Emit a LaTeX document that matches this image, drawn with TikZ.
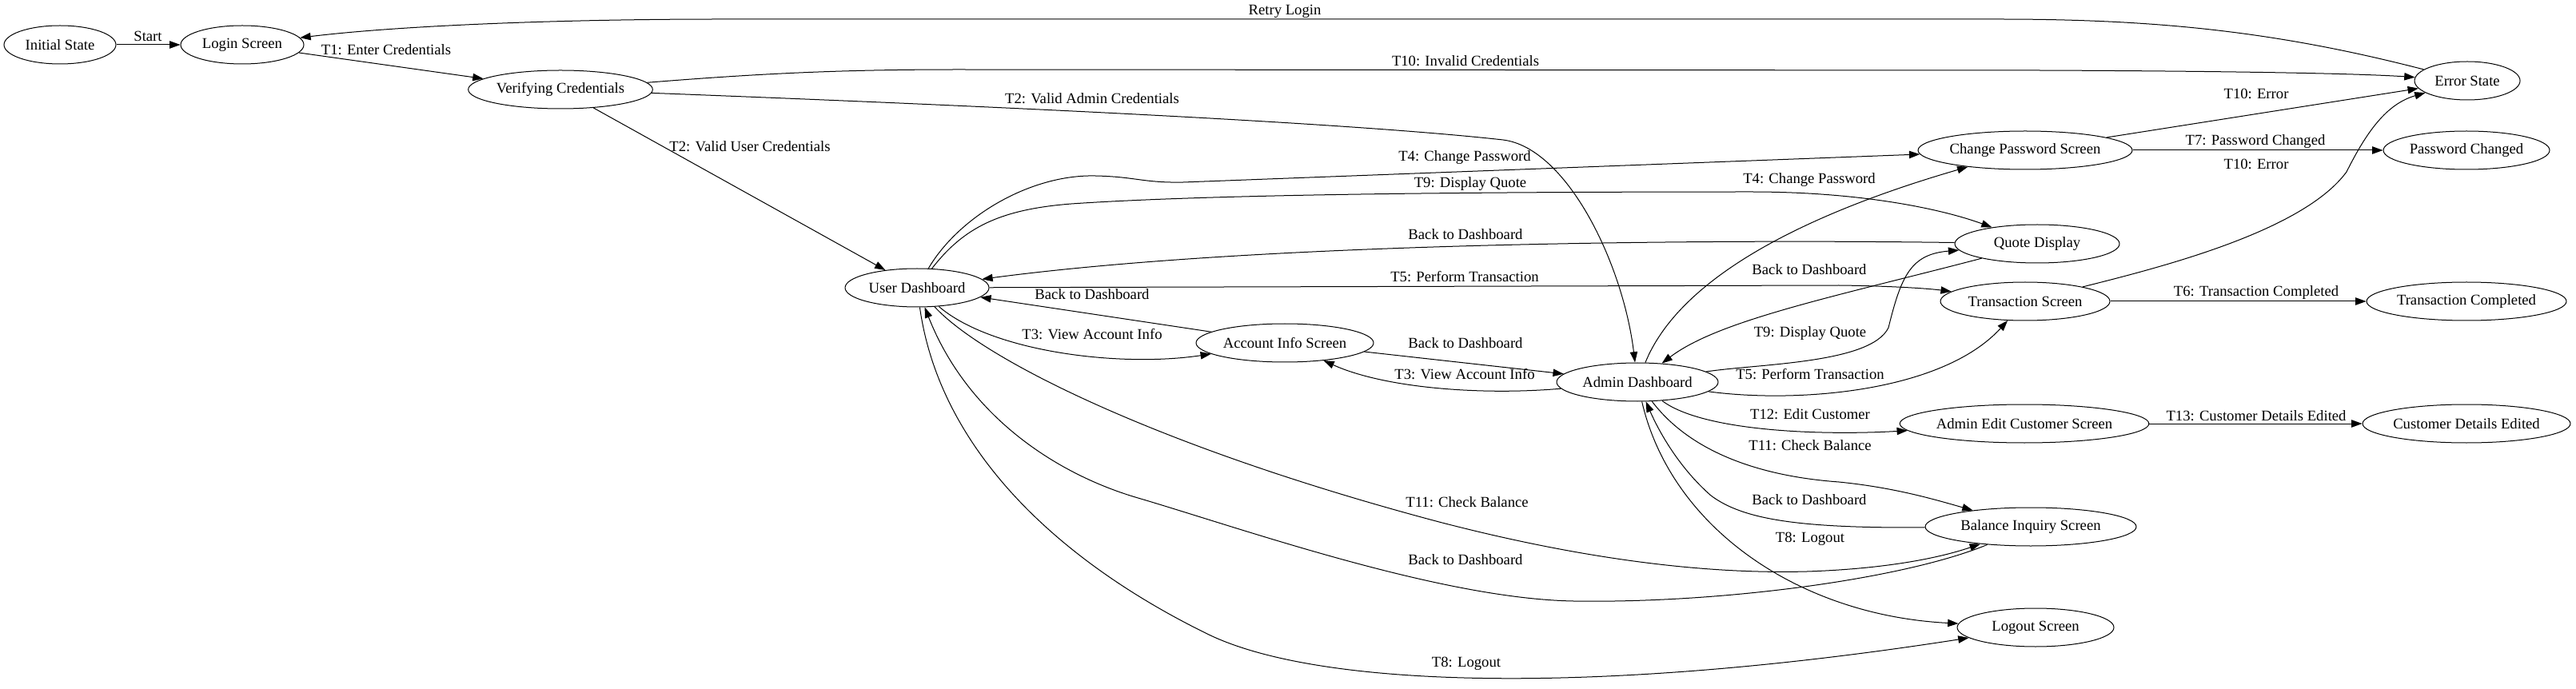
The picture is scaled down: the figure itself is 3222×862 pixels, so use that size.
\documentclass[tikz,border=0pt]{standalone}
\usepackage{fontspec}
\setmainfont{Liberation Serif}
\usetikzlibrary{shapes.geometric,arrows.meta}
\begin{document}
\begin{tikzpicture}[x=0.75pt,y=-0.75pt,
  st/.style={draw, ellipse, inner sep=0pt, minimum height=36pt, minimum width=#1, line width=0.75pt, font=\fontsize{14}{17}\selectfont},
  lbl/.style={inner sep=0pt, font=\fontsize{14}{17}\selectfont},
  ed/.style={draw, line width=0.75pt, -{Triangle[length=10pt,width=7pt]}}]
\useasboundingbox (0,0) rectangle (3222,862);
% states
\node[st=105pt] (init) at (75,56) {Initial State};
\node[st=115.5pt] (login) at (303,56) {Login Screen};
\node[st=173pt] (verify) at (701,112) {Verifying Credentials};
\node[st=135pt] (ud) at (1147,360) {User Dashboard};
\node[st=166.5pt] (ais) at (1607,429) {Account Info Screen};
\node[st=151.5pt] (admin) at (2048,478) {Admin Dashboard};
\node[st=201pt] (cps) at (2533,188) {Change Password Screen};
\node[st=154.5pt] (qd) at (2548,305) {Quote Display};
\node[st=159pt] (ts) at (2533,377) {Transaction Screen};
\node[st=232.5pt] (aecs) at (2532,530) {Admin Edit Customer Screen};
\node[st=198pt] (bis) at (2540,659) {Balance Inquiry Screen};
\node[st=147pt] (logout) at (2546,785) {Logout Screen};
\node[st=99pt] (error) at (3086,101) {Error State};
\node[st=156pt] (pc) at (3085,188) {Password Changed};
\node[st=187.5pt] (tc) at (3085,377) {Transaction Completed};
\node[st=195pt] (cde) at (3085,530) {Customer Details Edited};
% edges
\draw[ed] (init) -- (login);
\draw[ed] (login) -- (verify);
\draw[ed] (verify) -- (ud);
\draw[ed] (verify) .. controls (1300,135) and (1700,155) .. (1880,175) .. controls (1960,185) and (2030,330) .. (admin);
\draw[ed] (verify) .. controls (950,92) and (1050,87) .. (1200,87) -- (2550,88) .. controls (2800,89) and (2950,92) .. (error);
\draw[ed] (error) .. controls (2850,40) and (2700,24) .. (2500,24) -- (900,24) .. controls (700,24) and (500,32) .. (login);
\draw[ed] (ud) .. controls (1200,270) and (1290,218) .. (1370,220) .. controls (1420,221) and (1430,229) .. (1480,228) -- (cps);
\draw[ed] (ud) .. controls (1205,285) and (1250,262) .. (1340,255) .. controls (1500,244) and (1800,240) .. (2190,240) .. controls (2330,240) and (2430,262) .. (qd);
\draw[ed] (qd) .. controls (2200,300) and (1600,300) .. (ud);
\draw[ed] (ud) -- (2300,357) .. controls (2380,358) and (2420,362) .. (ts);
\draw[ed] (ais) -- (ud);
\draw[ed] (ud) .. controls (1240,440) and (1400,460) .. (ais);
\draw[ed] (ais) -- (admin);
\draw[ed] (admin) .. controls (1850,495) and (1730,485) .. (ais);
\draw[ed] (cps) -- (error);
\draw[ed] (cps) -- (pc);
\draw[ed] (admin) .. controls (2100,350) and (2250,270) .. (cps);
\draw[ed] (qd) .. controls (2300,370) and (2150,400) .. (admin);
\draw[ed] (admin) .. controls (2200,455) and (2340,455) .. (2362,410) .. controls (2378,345) and (2390,318) .. (qd);
\draw[ed] (admin) .. controls (2250,505) and (2430,490) .. (ts);
\draw[ed] (ts) -- (tc);
\draw[ed] (ts) .. controls (2700,335) and (2880,290) .. (2935,215) .. controls (2960,165) and (2985,130) .. (error);
\draw[ed] (admin) .. controls (2130,540) and (2280,545) .. (aecs);
\draw[ed] (aecs) -- (cde);
\draw[ed] (admin) .. controls (2110,560) and (2190,595) .. (2300,603) .. controls (2370,610) and (2420,625) .. (bis);
\draw[ed] (bis) .. controls (2250,661) and (2180,650) .. (2140,620) .. controls (2100,585) and (2075,540) .. (admin);
\draw[ed] (admin) .. controls (2090,660) and (2250,770) .. (logout);
\draw[ed] (ud) .. controls (1230,450) and (1450,560) .. (1800,653) .. controls (2000,705) and (2150,718) .. (2260,715) .. controls (2350,712) and (2420,700) .. (bis);
\draw[ed] (bis) .. controls (2380,725) and (2150,755) .. (1968,752) .. controls (1800,749) and (1550,660) .. (1420,622) .. controls (1320,592) and (1210,520) .. (ud);
\draw[ed] (ud) .. controls (1175,560) and (1320,700) .. (1510,793) .. controls (1650,862) and (2000,870) .. (logout);
% labels
\node[lbl] (lStart) at (185,45) {Start};
\node[lbl] (lT1) at (483,62) {T1: Enter Credentials};
\node[lbl] (lT2u) at (938,183) {T2: Valid User Credentials};
\node[lbl] (lT2a) at (1366,123) {T2: Valid Admin Credentials};
\node[lbl] (lT10a) at (1833,76) {T10: Invalid Credentials};
\node[lbl] (lRetry) at (1607,14) {Retry Login};
\node[lbl] (lT4u) at (1832,197) {T4: Change Password};
\node[lbl] (lT9u) at (1839,230) {T9: Display Quote};
\node[lbl] (lBq) at (1833,293) {Back to Dashboard};
\node[lbl] (lT5u) at (1832,346) {T5: Perform Transaction};
\node[lbl] (lBa) at (1366,368) {Back to Dashboard};
\node[lbl] (lT3u) at (1366,418) {T3: View Account Info};
\node[lbl] (lBaa) at (1833,429) {Back to Dashboard};
\node[lbl] (lT3a) at (1832,468) {T3: View Account Info};
\node[lbl] (lT4a) at (2263,225) {T4: Change Password};
\node[lbl] (lBqa) at (2263,337) {Back to Dashboard};
\node[lbl] (lT9a) at (2264,417) {T9: Display Quote};
\node[lbl] (lT5a) at (2264,468) {T5: Perform Transaction};
\node[lbl] (lT12) at (2264,518) {T12: Edit Customer};
\node[lbl] (lT11a) at (2264,557) {T11: Check Balance};
\node[lbl] (lBb) at (2263,625) {Back to Dashboard};
\node[lbl] (lT8a) at (2264,674) {T8: Logout};
\node[lbl] (lT11u) at (1835,628) {T11: Check Balance};
\node[lbl] (lBbu) at (1833,700) {Back to Dashboard};
\node[lbl] (lT8u) at (1834,830) {T8: Logout};
\node[lbl] (lT10c) at (2822,117) {T10: Error};
\node[lbl] (lT7) at (2821,177) {T7: Password Changed};
\node[lbl] (lT10t) at (2822,205) {T10: Error};
\node[lbl] (lT6) at (2822,366) {T6: Transaction Completed};
\node[lbl] (lT13) at (2822,520) {T13: Customer Details Edited};
\end{tikzpicture}
\end{document}
